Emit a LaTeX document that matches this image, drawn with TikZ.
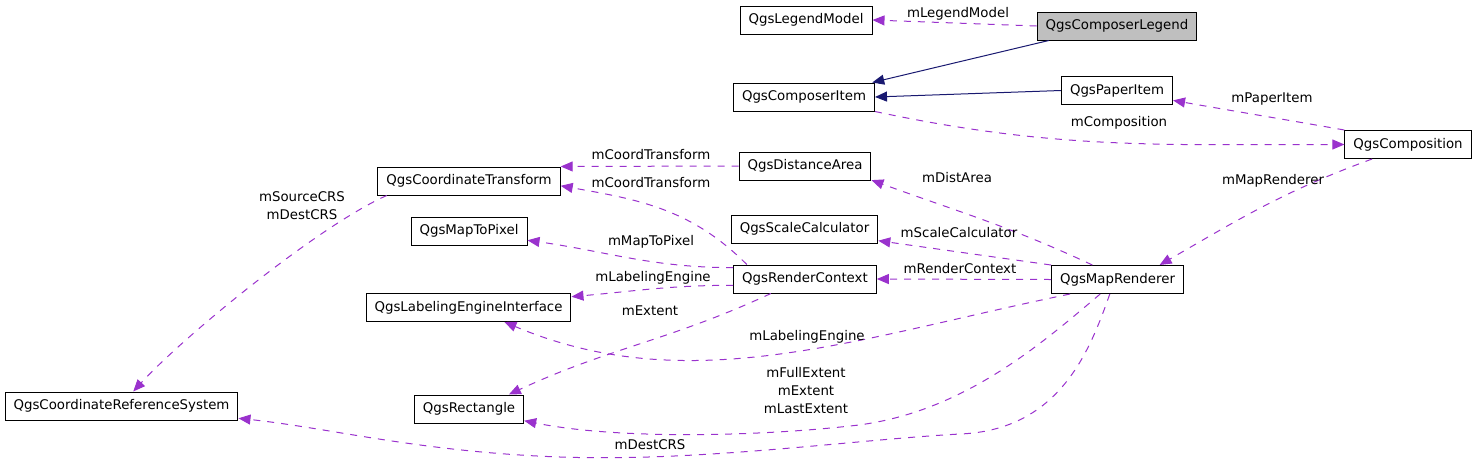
\documentclass[tikz,border=0pt]{standalone}
\usepackage{fontspec}
\setmainfont{DejaVu Sans}
\usepackage{xcolor}
\definecolor{refpurple}{HTML}{9A32CD}
\definecolor{inhnavy}{HTML}{191970}
\definecolor{focusgray}{HTML}{BFBFBF}
\usetikzlibrary{arrows.meta,calc}

\begin{document}
\begin{tikzpicture}[
  x=0.75pt, y=-0.75pt,
  font=\fontsize{10pt}{12pt}\selectfont,
  clsbox/.style={
    draw=black, line width=0.75pt, fill=white,
    inner xsep=6.4pt, inner ysep=0pt, minimum height=21pt,
  },
  focusbox/.style={clsbox, fill=focusgray},
  uselink/.style={draw=refpurple, line width=0.75pt,
    dash pattern=on 5.25pt off 5.25pt,
    -{Triangle[length=9pt,width=7.5pt]}},
  inhlink/.style={draw=inhnavy, line width=0.75pt,
    -{Triangle[length=9pt,width=7.5pt]}},
  lbl/.style={inner sep=0pt, align=center,
    font=\fontsize{10pt}{13.5pt}\selectfont},
]
\useasboundingbox (0,0) rectangle (1477,461);

% ====================================================================
% Collaboration graph of QgsComposerLegend (doxygen style)
% ====================================================================

% === CLASSES ===
\node[clsbox]   (lmodel) at (806,20)    {QgsLegendModel};
\node[focusbox] (legend) at (1117,26)   {QgsComposerLegend};
\node[clsbox]   (citem)  at (804,97)    {QgsComposerItem};
\node[clsbox]   (paper)  at (1117,90.5) {QgsPaperItem};
\node[clsbox]   (comp)   at (1408,144.5){QgsComposition};
\node[clsbox]   (dist)   at (805,166)   {QgsDistanceArea};
\node[clsbox]   (ctrans) at (469,181)   {QgsCoordinateTransform};
\node[clsbox]   (m2p)    at (469,231)   {QgsMapToPixel};
\node[clsbox]   (scalc)  at (804.5,229) {QgsScaleCalculator};
\node[clsbox]   (rctx)   at (805,279)   {QgsRenderContext};
\node[clsbox]   (mrend)  at (1117.5,279.5) {QgsMapRenderer};
\node[clsbox]   (lei)    at (468.5,307.5) {QgsLabelingEngineInterface};
\node[clsbox]   (crs)    at (121.5,406) {QgsCoordinateReferenceSystem};
\node[clsbox]   (rect)   at (469,409)   {QgsRectangle};

% === INHERITANCE ===
\draw[inhlink] (legend.192) -- (citem.12);
\draw[inhlink] (paper.west) -- (citem.east);

% === COMPOSER PART ===
\draw[uselink] (legend.west) -- (lmodel.east);
\node[lbl] (l_lmodel) at (958,14) {mLegendModel};

\draw[uselink] (comp.north west) to[out=170, in=-10] (paper.-10);
\node[lbl] (l_paper) at (1272,99) {mPaperItem};

\draw[uselink] (citem.south east) to[out=-12, in=180] (comp.west);
\node[lbl] (l_comp) at (1119,123) {mComposition};

\draw[uselink] (comp.202) to[out=200, in=30] (mrend.19);
\node[lbl] (l_mrend) at (1273,181) {mMapRenderer};

% === RENDERER PART ===
\draw[uselink] (dist.west) -- (ctrans.north east);
\node[lbl] (l_ct1) at (651,155) {mCoordTransform};

\draw[uselink] (rctx.166) to[out=135, in=-10] (ctrans.-3);
\node[lbl] (l_ct2) at (651,183) {mCoordTransform};

\draw[uselink] (mrend.150) to[out=155, in=-20] (dist.-12);
\node[lbl] (l_dist) at (957,178) {mDistArea};

\draw[uselink] (mrend.north west) to[out=172, in=-8] (scalc.-9);
\node[lbl] (l_scalc) at (959,233) {mScaleCalculator};

\draw[uselink] (mrend.west) -- (rctx.east);
\node[lbl] (l_rctx) at (960,269) {mRenderContext};

\draw[uselink] (rctx.171) to[out=180, in=-8] (m2p.-9);
\node[lbl] (l_m2p) at (651,242) {mMapToPixel};

\draw[uselink] (rctx.185) to[out=180, in=5] (lei.6);
\node[lbl] (l_lei1) at (653,278) {mLabelingEngine};

\draw[uselink] (rctx.203) to[out=205, in=25] (rect.20);
\node[lbl] (l_ext) at (650,311) {mExtent};

\draw[uselink] (mrend.197) .. controls (855,338) and (690,400) .. (lei.-22);
\node[lbl] (l_lei2) at (807,337) {mLabelingEngine};

\draw[uselink] (mrend.220) .. controls (1040,345) and (960,415) .. (850,426)
  .. controls (760,436) and (620,440) .. (rect.-12);
\node[lbl] (l_rext) at (806,391) {mFullExtent\\mExtent\\mLastExtent};

\draw[uselink] (mrend.242) .. controls (1090,350) and (1060,430) .. (960,434)
  .. controls (850,440) and (700,462) .. (560,457)
  .. controls (420,452) and (330,428) .. (crs.-6);
\node[lbl] (l_dcrs) at (650,445) {mDestCRS};

\draw[uselink] (ctrans.190) .. controls (320,225) and (185,335) .. (crs.51);
\node[lbl] (l_crs) at (302,206) {mSourceCRS\\mDestCRS};

\end{tikzpicture}
\end{document}
